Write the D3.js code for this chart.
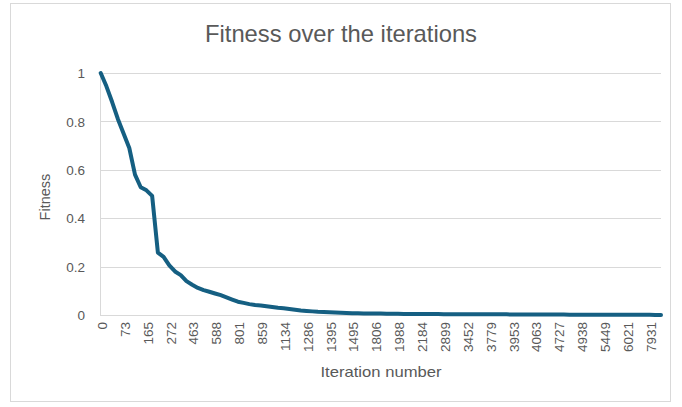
<!DOCTYPE html>
<html><head><meta charset="utf-8">
<script src="https://cdn.jsdelivr.net/npm/d3@7"></script>
<style>
html,body{margin:0;padding:0;background:#fff;}
svg{display:block;}
text{font-family:"Liberation Sans",Arial,sans-serif;fill:#595959;}
</style></head>
<body>
<svg id="chart" width="682" height="407"></svg>
<script>
const iterations = [0,21,40,58,73,94,121,143,165,187,214,249,272,309,372,420,463,490,519,561,588,630,702,755,801,812,827,846,859,914,1003,1071,1134,1168,1219,1251,1286,1309,1347,1371,1395,1418,1449,1467,1495,1561,1657,1733,1806,1849,1902,1937,1988,2041,2079,2140,2184,2356,2551,2712,2899,3044,3168,3320,3452,3527,3623,3690,3779,3818,3871,3905,3953,3977,4012,4031,4063,4236,4388,4569,4727,4776,4840,4881,4938,5071,5188,5327,5449,5587,5741,5873,6021,6510,6969,7448,7931,8516,9170];
const fitness = [1.000,0.945,0.880,0.810,0.750,0.690,0.580,0.528,0.515,0.492,0.258,0.240,0.205,0.180,0.165,0.140,0.125,0.112,0.103,0.096,0.089,0.082,0.073,0.064,0.055,0.050,0.045,0.041,0.039,0.036,0.033,0.030,0.028,0.025,0.022,0.019,0.017,0.015,0.013,0.012,0.011,0.010,0.009,0.008,0.0075,0.007,0.0066,0.0063,0.006,0.0057,0.0054,0.0051,0.0048,0.0046,0.0044,0.0042,0.004,0.0039,0.0038,0.0037,0.0036,0.0035,0.0034,0.0033,0.0032,0.0031,0.003,0.003,0.0029,0.0028,0.0027,0.0026,0.0025,0.0024,0.0023,0.0022,0.0021,0.002,0.0019,0.0018,0.0017,0.0016,0.0015,0.0014,0.0013,0.0012,0.0011,0.001,0.001,0.0009,0.0009,0.0008,0.0008,0.0007,0.0007,0.0006,0.0006,0.0005,0.0005];
const yTicks = [0,0.2,0.4,0.6,0.8,1];
const labelEvery = 4;
const titleText = "Fitness over the iterations";
const xTitle = "Iteration number";
const yTitle = "Fitness";

const svg = d3.select("#chart");
svg.append("rect").attr("x",10.5).attr("y",3.5).attr("width",660).attr("height",398)
  .attr("fill","#fff").attr("stroke","#d9d9d9").attr("stroke-width",1);

const x = d3.scalePoint().domain(iterations.map(String)).range([100.7,661]);
const y = d3.scaleLinear().domain([0,1]).range([315,73]);

// gridlines
svg.append("g").selectAll("line").data(yTicks.filter(d=>d>0)).join("line")
  .attr("x1",100).attr("x2",661).attr("y1",d=>Math.round(y(d))+0.5).attr("y2",d=>Math.round(y(d))+0.5)
  .attr("stroke","#d9d9d9").attr("stroke-width",1);

// axis lines
svg.append("line").attr("x1",100.5).attr("x2",100.5).attr("y1",73).attr("y2",315).attr("stroke","#d9d9d9");
svg.append("line").attr("x1",100).attr("x2",661).attr("y1",315.5).attr("y2",315.5).attr("stroke","#d9d9d9");

// y axis
const yAxis = d3.axisLeft(y).tickValues(yTicks).tickSize(0).tickPadding(0).tickFormat(d=>String(d));
const gy = svg.append("g").attr("transform","translate(85,0)").call(yAxis);
gy.select(".domain").remove();
gy.selectAll("text").style("font-size","13.5px").attr("fill","#595959").attr("dy","0.35em");

// x axis
const xAxis = d3.axisBottom(x).tickValues(iterations.filter((d,i)=>i%labelEvery===0).map(String)).tickSize(0);
const gx = svg.append("g").attr("transform","translate(0,315)").call(xAxis);
gx.select(".domain").remove();
gx.selectAll("text").style("font-size","13.5px").attr("fill","#595959")
  .attr("transform","rotate(-90)").attr("text-anchor","end")
  .attr("x",-7).attr("y",1).attr("dy","0.35em");

// line
const line = d3.line().x((d,i)=>x(String(iterations[i]))).y(d=>y(d)).curve(d3.curveLinear);
svg.append("path").datum(fitness).attr("d",line).attr("fill","none")
  .attr("stroke","#155f82").attr("stroke-width",4).attr("stroke-linejoin","round").attr("stroke-linecap","round");

// titles
svg.append("text").attr("x",341).attr("y",42).attr("text-anchor","middle")
  .style("font-size","24px").style("font-family","'Liberation Sans Narrow','Liberation Sans',Arial,sans-serif")
  .attr("textLength",272).attr("lengthAdjust","spacingAndGlyphs").text(titleText);
svg.append("text").attr("x",381).attr("y",377).attr("text-anchor","middle")
  .style("font-size","14.5px").attr("textLength",121).attr("lengthAdjust","spacingAndGlyphs").text(xTitle);
svg.append("text").attr("transform","translate(50,197) rotate(-90)").attr("text-anchor","middle")
  .style("font-size","14.5px").text(yTitle);
</script>
</body></html>
